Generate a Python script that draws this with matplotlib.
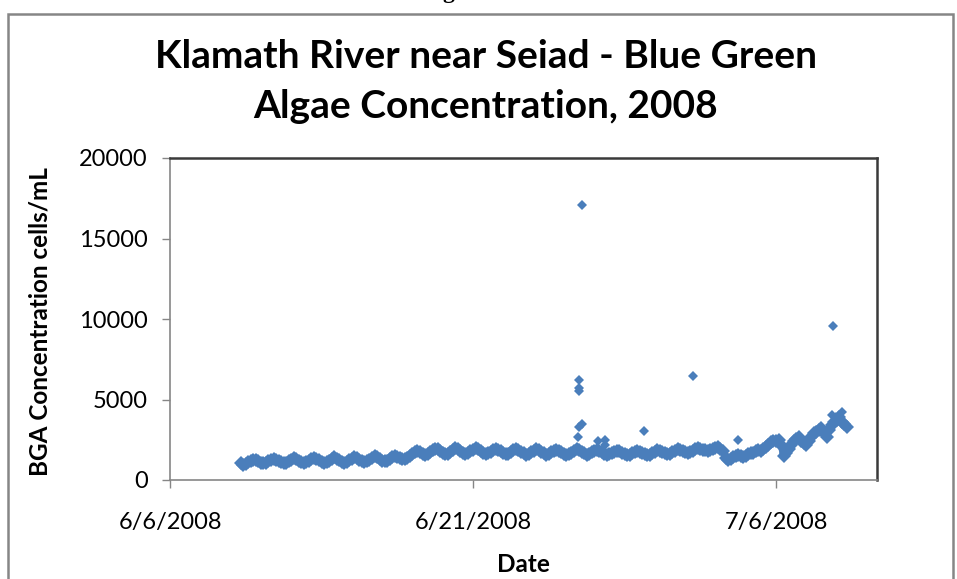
import pandas as pd
import matplotlib.pyplot as plt
import matplotlib.dates as mdates
from matplotlib.patches import Rectangle

# BGA readings every 3 hours, starting 6/9/2008 12:00
bga_values = [
    1050, 950, 1000, 1100,                                  # 6/9 (from noon)
    1200, 1270, 1230, 1150, 1080, 1030, 1060, 1150,         # 6/10
    1230, 1320, 1260, 1170, 1100, 1050, 1080, 1160,         # 6/11
    1260, 1350, 1290, 1190, 1110, 1040, 1090, 1180,         # 6/12
    1290, 1380, 1320, 1220, 1140, 1060, 1110, 1210,         # 6/13
    1300, 1400, 1330, 1230, 1130, 1050, 1100, 1220,         # 6/14
    1330, 1430, 1370, 1270, 1180, 1100, 1150, 1250,         # 6/15
    1380, 1470, 1400, 1300, 1200, 1150, 1200, 1310,         # 6/16
    1420, 1500, 1450, 1350, 1300, 1280, 1380, 1500,         # 6/17
    1620, 1750, 1820, 1750, 1640, 1580, 1620, 1720,         # 6/18
    1850, 1950, 1900, 1780, 1680, 1600, 1640, 1750,         # 6/19
    1880, 1970, 1920, 1800, 1700, 1620, 1660, 1780,         # 6/20
    1880, 1960, 1900, 1790, 1690, 1610, 1650, 1770,         # 6/21
    1870, 1950, 1890, 1780, 1680, 1600, 1640, 1760,         # 6/22
    1850, 1930, 1870, 1760, 1660, 1580, 1620, 1740,         # 6/23
    1830, 1900, 1840, 1740, 1650, 1570, 1610, 1720,         # 6/24
    1800, 1880, 1820, 1720, 1630, 1560, 1600, 1700,         # 6/25
    1780, 1900, 1850, 1750, 1650, 1580, 1620, 1720,         # 6/26
    1800, 1870, 1820, 1720, 1630, 1560, 1590, 1690,         # 6/27
    1760, 1830, 1790, 1700, 1600, 1530, 1570, 1660,         # 6/28
    1740, 1810, 1770, 1680, 1600, 1540, 1580, 1670,         # 6/29
    1760, 1840, 1800, 1720, 1650, 1600, 1640, 1720,         # 6/30
    1820, 1900, 1870, 1800, 1740, 1700, 1740, 1810,         # 7/1
    1900, 1980, 1950, 1890, 1840, 1800, 1840, 1900,         # 7/2
    2000, 2050, 1950, 1800, 1350, 1250, 1300, 1400,         # 7/3
    1500, 1580, 1520, 1450, 1500, 1600, 1650, 1700,         # 7/4
    1780, 1850, 1800, 1900, 2050, 2200, 2350, 2450,         # 7/5
    2400, 2500, 2200, 1500, 1700, 1950, 2200, 2450,         # 7/6
    2550, 2650, 2450, 2300, 2200, 2450, 2700, 2900,         # 7/7
    3000, 3100, 3200, 2900, 2700, 3100, 3400, 3600,         # 7/8
    3700, 3900, 3600, 3500, 3300,                           # 7/9
]
bga_times = pd.date_range('2008-06-09 12:00', periods=len(bga_values), freq='3h')

# isolated spikes
spike_times = pd.to_datetime([
    '2008-06-26 09:00', '2008-06-26 06:00', '2008-06-26 06:15', '2008-06-26 06:30',
    '2008-06-26 09:00', '2008-06-26 06:15', '2008-06-26 04:30', '2008-06-27 04:30',
    '2008-06-27 12:45', '2008-06-27 12:30', '2008-06-29 11:30', '2008-07-01 21:50',
    '2008-07-04 02:30', '2008-07-08 19:10', '2008-07-08 18:15', '2008-07-09 06:00',
    '2008-07-08 23:00',
])
spike_values = [17100, 6200, 5700, 5550, 3480, 3270, 2650, 2440,
                2480, 2200, 3060, 6470, 2480, 9550, 4050, 4200, 3900]

x_ticks = pd.to_datetime(['2008-06-06', '2008-06-21', '2008-07-06'])
x_tick_labels = ['6/6/2008', '6/21/2008', '7/6/2008']
y_ticks = [0, 5000, 10000, 15000, 20000]

plt.rcParams['font.family'] = ['Lato', 'DejaVu Sans']

fig = plt.figure(figsize=(9.57, 5.79), dpi=100)
ax = fig.add_axes([170 / 957, 1 - 480 / 579, 707 / 957, 322 / 579])

blue = '#4A7EBB'
# dense readings merge into a thick band
ax.plot(bga_times, bga_values, ls='-', lw=5, marker='D', ms=7, color=blue,
        mew=0, solid_joinstyle='round', solid_capstyle='round')
ax.plot(spike_times, spike_values, ls='none', marker='D', ms=5.5, color=blue, mew=0)

ax.set_xlim(pd.Timestamp('2008-06-06'), pd.Timestamp('2008-07-11'))
ax.set_ylim(0, 20000)
ax.set_xticks(x_ticks)
ax.set_xticklabels(x_tick_labels)
ax.set_yticks(y_ticks)
ax.set_yticklabels([str(v) for v in y_ticks])

ax.tick_params(axis='both', labelsize=17, color='#868686', length=6, width=1)
ax.tick_params(axis='y', pad=10)
ax.tick_params(axis='x', pad=17)
for side in ['left', 'bottom']:
    ax.spines[side].set_color('#868686')
    ax.spines[side].set_linewidth(1.2)
for side in ['top', 'right']:
    ax.spines[side].set_color('#3a3a3a')
    ax.spines[side].set_linewidth(1.8)

fig.text(486 / 957, 1 - 57 / 579, 'Klamath River near Seiad - Blue Green',
         ha='center', va='center', fontsize=28, fontweight='bold')
fig.text(486 / 957, 1 - 106 / 579, 'Algae Concentration, 2008',
         ha='center', va='center', fontsize=28, fontweight='bold')
fig.text(40 / 957, 1 - 322 / 579, 'BGA Concentration cells/mL', rotation=90,
         ha='center', va='center', fontsize=17.5, fontweight='bold')
fig.text(523 / 957, 1 - 565 / 579, 'Date', ha='center', va='center',
         fontsize=17.5, fontweight='bold')

# clipped caption fragment above the chart
fig.text(448 / 957, 1 + 2 / 579, 'g', ha='center', va='baseline',
         fontsize=17, fontweight='bold', family='Liberation Serif')

# outer chart border
fig.patches.append(Rectangle((8 / 957, -0.1), 945 / 957, 1.1 - 14 / 579,
                             transform=fig.transFigure, fill=False,
                             edgecolor='#868686', linewidth=1.8))

fig.savefig('out.png', dpi=100)
